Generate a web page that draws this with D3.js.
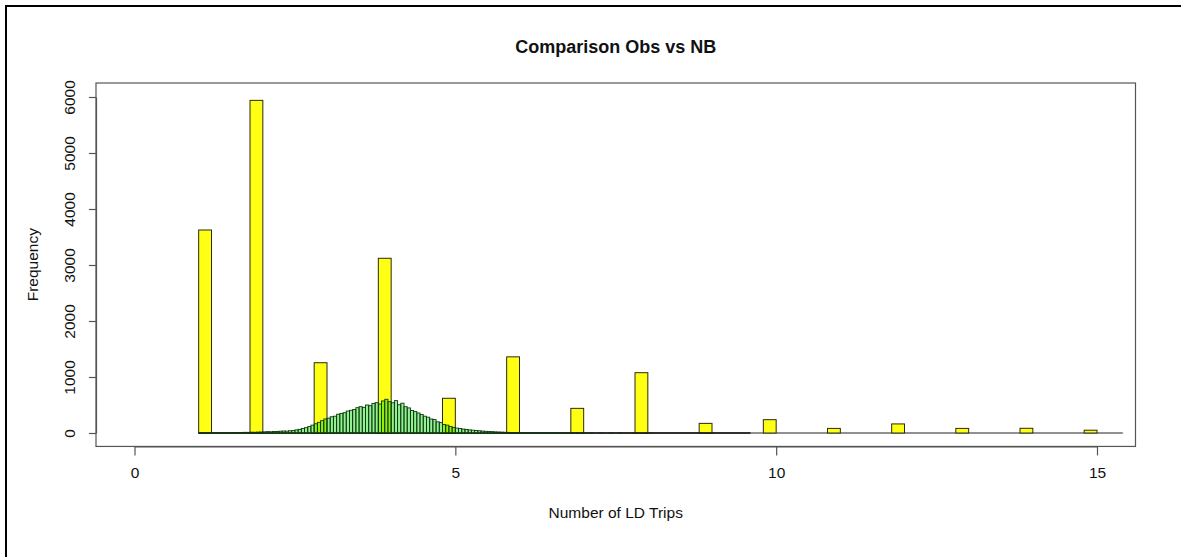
<!DOCTYPE html>
<html>
<head>
<meta charset="utf-8">
<script src="https://cdn.jsdelivr.net/npm/d3@7"></script>
<style>
  body { margin: 0; background: #fff; }
  svg text { font-family: "Liberation Sans", Arial, Helvetica, sans-serif; fill: #111; }
</style>
</head>
<body>
<div id="graph-holder"></div>
<script>
// observed number of LD trips (yellow histogram, 0.2 wide bins)
var obsTrips = [1, 2, 3, 4, 5, 6, 7, 8, 9, 10, 11, 12, 13, 14, 15];
var obsFreq = [3625, 5940, 1255, 3120, 620, 1360, 440, 1077, 172, 238, 82, 162, 82, 84, 50];
var obsBinWidth = 0.2;
var obsLastBreak = 15.4;

// negative binomial fit (green histogram, 0.05 wide bins starting at 1.0)
var nbStart = 1.0;
var nbBinWidth = 0.05;
var nbFreq = [
  2, 1, 3, 2, 4, 3, 5, 4, 6, 5, 8, 7, 9, 10, 12, 11, 14, 13, 16, 18,
  20, 24, 22, 28, 26, 32, 35, 33, 40, 44,
  55, 65, 80, 95, 115, 140, 165, 190, 220, 250,
  265, 290, 300, 335, 350, 362, 392, 405, 420, 452,
  470, 458, 500, 488, 528, 542, 518, 572, 602, 560,
  540, 578, 505, 532, 470, 448, 402, 382, 358, 330,
  300, 282, 250, 240, 200, 186, 150, 140, 115, 100,
  88, 80, 70, 64, 55, 50, 44, 40, 34, 30,
  27, 24, 20, 18, 15, 13, 11, 10, 8, 7,
  6, 5, 5, 4, 4, 3, 3, 2, 2, 2,
  2, 1, 1, 1, 1, 1, 0, 1, 1, 0, 1, 0, 1, 0, 0, 1, 0, 0, 1, 0,
  0, 1, 0, 0, 0, 1, 0, 0, 0, 0, 1, 0, 0, 0, 0, 0, 0, 0, 0, 0,
  0, 0, 0, 0, 0, 0, 0, 0, 0, 0, 0, 0, 0, 0, 0, 0, 0, 0, 0, 0, 0, 0
];

var xTicks = [0, 5, 10, 15];
var yTicks = [0, 1000, 2000, 3000, 4000, 5000, 6000];

drawComparison();

function drawComparison() {
  var width = 1181,
    height = 557;

  var x = d3.scaleLinear().domain([0, 15]).range([134.5, 1097]);
  var y = d3.scaleLinear().domain([0, 6000]).range([433, 97]);

  // R style plot region, 4% padding around the data range
  var boxLeft = x(-0.6),
    boxRight = x(15.6),
    boxTop = y(6250),
    boxBottom = y(-240);

  var svg = d3
    .select("#graph-holder")
    .append("svg")
    .attr("width", width)
    .attr("height", height);

  svg.append("rect").attr("width", width).attr("height", height).attr("fill", "#fff");

  // outer frame (left and top edges only)
  svg.append("line").attr("x1", 6).attr("x2", 6).attr("y1", 5).attr("y2", height)
    .attr("stroke", "#000").attr("stroke-width", 2);
  svg.append("line").attr("x1", 5).attr("x2", width).attr("y1", 6).attr("y2", 6)
    .attr("stroke", "#000").attr("stroke-width", 2);

  // observed bins: trip 1 sits in [1, 1.2], other trips in (k - 0.2, k]
  var obsBins = obsTrips.map(function(t, i) {
    var x0 = t === 1 ? t : t - obsBinWidth;
    return { x0: x0, x1: x0 + obsBinWidth, count: obsFreq[i] };
  });

  // zero height bins show as a line along 0 with tiny edge marks
  svg.append("line")
    .attr("x1", x(1)).attr("x2", x(obsLastBreak))
    .attr("y1", y(0)).attr("y2", y(0))
    .attr("stroke", "#222").attr("stroke-width", 1);

  svg.selectAll(".obs-edge")
    .data(d3.range(1, obsLastBreak + 0.01, obsBinWidth))
    .enter()
    .append("line")
    .attr("class", "obs-edge")
    .attr("x1", (d) => x(d)).attr("x2", (d) => x(d))
    .attr("y1", y(0) - 1).attr("y2", y(0) + 1)
    .attr("stroke", "#999").attr("stroke-width", 0.6);

  svg.selectAll(".obs")
    .data(obsBins)
    .enter()
    .append("rect")
    .attr("class", "obs")
    .attr("x", (d) => x(d.x0))
    .attr("width", (d) => x(d.x1) - x(d.x0))
    .attr("y", (d) => y(d.count))
    .attr("height", (d) => y(0) - y(d.count))
    .attr("fill", "#ffff14")
    .attr("stroke", "#2a2a10")
    .attr("stroke-width", 1);

  // NB bins drawn on top, semi transparent green
  var nbBins = nbFreq.map(function(c, i) {
    var x0 = nbStart + i * nbBinWidth;
    return { x0: x0, x1: x0 + nbBinWidth, count: c };
  });

  svg.append("line")
    .attr("x1", x(nbBins[0].x0)).attr("x2", x(nbBins[nbBins.length - 1].x1))
    .attr("y1", y(0)).attr("y2", y(0))
    .attr("stroke", "#111").attr("stroke-width", 1.4);

  svg.selectAll(".nb")
    .data(nbBins.filter((d) => d.count > 0))
    .enter()
    .append("rect")
    .attr("class", "nb")
    .attr("x", (d) => x(d.x0))
    .attr("width", (d) => x(d.x1) - x(d.x0))
    .attr("y", (d) => y(d.count))
    .attr("height", (d) => y(0) - y(d.count))
    .attr("fill", "rgba(0, 220, 0, 0.42)")
    .attr("stroke", "#103510")
    .attr("stroke-width", 0.9);

  // plot box
  svg.append("rect")
    .attr("x", boxLeft).attr("y", boxTop)
    .attr("width", boxRight - boxLeft).attr("height", boxBottom - boxTop)
    .attr("fill", "none").attr("stroke", "#555").attr("stroke-width", 1.2);

  var xAxis = d3.axisBottom(x).tickValues(xTicks).tickSize(9).tickSizeOuter(0).tickPadding(12);
  var yAxis = d3.axisLeft(y).tickValues(yTicks).tickFormat(d3.format("d")).tickSize(7).tickSizeOuter(0);

  var gx = svg.append("g")
    .attr("transform", "translate(0," + boxBottom + ")")
    .call(xAxis);
  gx.selectAll("path, line").attr("stroke", "#555").attr("stroke-width", 1.2);
  gx.selectAll("text").style("font-size", "15.5px").attr("fill", "#111");

  var gy = svg.append("g")
    .attr("transform", "translate(" + boxLeft + ",0)")
    .call(yAxis);
  gy.selectAll("path, line").attr("stroke", "#555").attr("stroke-width", 1.2);
  gy.selectAll("text")
    .style("font-size", "15.5px")
    .attr("fill", "#111")
    .attr("x", 0)
    .attr("dy", 0)
    .attr("text-anchor", "middle")
    .attr("transform", "translate(-21,0) rotate(-90)");

  svg.append("text")
    .attr("x", (boxLeft + boxRight) / 2)
    .attr("y", 53)
    .attr("text-anchor", "middle")
    .style("font-size", "18px")
    .style("font-weight", "bold")
    .text("Comparison Obs vs NB");

  svg.append("text")
    .attr("x", (boxLeft + boxRight) / 2)
    .attr("y", 518)
    .attr("text-anchor", "middle")
    .style("font-size", "15.5px")
    .text("Number of LD Trips");

  svg.append("text")
    .attr("transform", "translate(38," + (boxTop + boxBottom) / 2 + ") rotate(-90)")
    .attr("text-anchor", "middle")
    .style("font-size", "15.5px")
    .text("Frequency");
}
</script>
</body>
</html>
